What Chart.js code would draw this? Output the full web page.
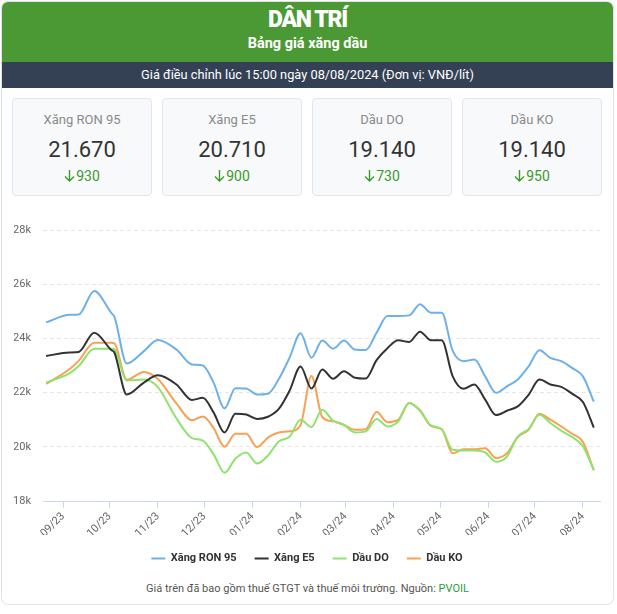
<!DOCTYPE html>
<html>
<head>
<meta charset="utf-8">
<script src="https://cdn.jsdelivr.net/npm/chart.js@4.4.1/dist/chart.umd.min.js"></script>
<style>
  body { margin: 0; background: #fff; font-family: Roboto, "Noto Sans", sans-serif; }
  #box { position: absolute; left: 2px; top: 2px; width: 611px; height: 602px; border-radius: 6px;
         box-shadow: 0 0 0 1px #dfe4ea; overflow: hidden; background: #fff; }
  .abs { position: absolute; left: 0; width: 100%; text-align: center; white-space: nowrap; }
  #head { position: absolute; left: 0; top: 0; width: 100%; height: 60px; background: #4a9934; }
  #logo { top: 5px; line-height: 26px; font-size: 23px; font-weight: 900; color: #fff; letter-spacing: -1.3px; }
  #title { top: 32px; line-height: 20px; font-size: 14.5px; font-weight: 700; color: #fff; }
  #bar { position: absolute; left: 0; top: 60px; width: 100%; height: 26px; background: #344155;
         color: #fff; font-size: 12.8px; line-height: 26px; text-align: center; }
  .card { position: absolute; top: 96px; width: 138px; height: 96px; background: #f8f9fa;
          border: 1px solid #e2e6ea; border-radius: 4px; text-align: center; }
  .card .lbl { position: absolute; top: 13px; width: 100%; font-size: 13px; color: #8a8a8a; line-height: 16px; }
  .card .val { position: absolute; top: 38px; width: 100%; font-size: 22px; color: #333; line-height: 26px; }
  .card .chg { position: absolute; top: 69px; width: 100%; font-size: 14px; color: #3a9a2c; line-height: 16px; }
  .card .chg svg { vertical-align: -1px; margin-right: 1px; }
  #chartWrap { position: absolute; left: 0; top: 198px; width: 611px; height: 375px; }
  #foot { top: 579px; line-height: 16px; font-size: 11px; color: #555; }
  #foot span { color: #2e9a3e; }
</style>
</head>
<body>
<div id="box">
  <div id="head"></div>
  <div id="logo" class="abs">DÂN TRÍ</div>
  <div id="title" class="abs">Bảng giá xăng dầu</div>
  <div id="bar">Giá điều chỉnh lúc 15:00 ngày 08/08/2024 (Đơn vị: VNĐ/lít)</div>
  <div id="cards"></div>
  <div id="chartWrap"><canvas id="myChart"></canvas></div>
  <div id="foot" class="abs">Giá trên đã bao gồm thuế GTGT và thuế môi trường. Nguồn: <span>PVOIL</span></div>
</div>
<script>
// ngày điều chỉnh giá
var dates = [
  '2023-08-21', '2023-09-05', '2023-09-11', '2023-09-21', '2023-10-02', '2023-10-04',
  '2023-10-12', '2023-10-23', '2023-11-01', '2023-11-13', '2023-11-23', '2023-11-30',
  '2023-12-07', '2023-12-14', '2023-12-21', '2023-12-28', '2024-01-04', '2024-01-11',
  '2024-01-18', '2024-01-25', '2024-02-01', '2024-02-08', '2024-02-15', '2024-02-22',
  '2024-02-29', '2024-03-07', '2024-03-14', '2024-03-21', '2024-03-28', '2024-04-04',
  '2024-04-11', '2024-04-18', '2024-04-25', '2024-05-02', '2024-05-09', '2024-05-16',
  '2024-05-23', '2024-05-30', '2024-06-06', '2024-06-13', '2024-06-20', '2024-06-27',
  '2024-07-04', '2024-07-11', '2024-07-18', '2024-07-25', '2024-08-01', '2024-08-08'
];
var ron95 = [
  24590, 24870, 24880, 25750, 24940, 24800, 23070, 23530, 23940, 23590, 23040, 23000,
  22360, 21420, 22160, 22150, 21930, 21960, 22500, 23300, 24190, 23290, 23920, 23620,
  23920, 23590, 23570, 24210, 24830, 24830, 24850, 25260, 24950, 24950, 23550, 23160,
  23220, 22600, 21990, 22230, 22480, 22970, 23560, 23280, 23160, 22910, 22600, 21670
];
var e5 = [
  23350, 23480, 23500, 24210, 23570, 23480, 21930, 22370, 22640, 22300, 21730, 21810,
  21260, 20530, 21220, 21190, 21030, 21110, 21400, 22080, 22960, 22150, 22850, 22510,
  22790, 22550, 22520, 23200, 23640, 23930, 23870, 24250, 23930, 23930, 22610, 22140,
  22300, 21740, 21170, 21330, 21490, 21920, 22480, 22300, 22210, 21960, 21650, 20710
];
var dauDO = [
  22370, 22710, 22980, 23620, 23620, 23600, 22450, 22480, 22200, 21050, 20320, 20230,
  19720, 19040, 19560, 19790, 19380, 19680, 20200, 20380, 21000, 20730, 21370, 20960,
  20810, 20530, 20570, 21030, 20750, 20940, 21620, 21330, 20790, 20650, 19890, 19860,
  19860, 19790, 19450, 19640, 20380, 20650, 21180, 20880, 20600, 20360, 20020, 19140
];
var dauKO = [
  22320, 22860, 23170, 23840, 23840, 23820, 22480, 22760, 22500, 21600, 20980, 21120,
  20690, 20000, 20480, 20480, 19990, 20340, 20530, 20570, 20800, 22610, 21100, 20940,
  20810, 20630, 20650, 21280, 20910, 21000, 21620, 21350, 20770, 20650, 19760, 19910,
  19910, 19950, 19580, 19760, 20360, 20630, 21220, 21000, 20750, 20480, 20180, 19140
];

var seriesNames = ['Xăng RON 95', 'Xăng E5', 'Dầu DO', 'Dầu KO'];
var seriesColors = ['#6eb0ea', '#333333', '#8ee36e', '#f9a053'];

var monthTicks = ['2023-09-01', '2023-10-01', '2023-11-01', '2023-12-01', '2024-01-01', '2024-02-01',
                  '2024-03-01', '2024-04-01', '2024-05-01', '2024-06-01', '2024-07-01', '2024-08-01'];
var tickLabels = ['09/23', '10/23', '11/23', '12/23', '01/24', '02/24',
                  '03/24', '04/24', '05/24', '06/24', '07/24', '08/24'];

// thẻ giá hiện tại
var cardNames = ['Xăng RON 95', 'Xăng E5', 'Dầu DO', 'Dầu KO'];
var cardPrices = ['21.670', '20.710', '19.140', '19.140'];
var cardChanges = ['930', '900', '730', '950'];

function day(s) {
  var p = s.split('-');
  return Date.UTC(+p[0], +p[1] - 1, +p[2]) / 86400000;
}

var arrow = '<svg width="11" height="13" viewBox="0 0 11 13"><path d="M5.5 1 V12 M1 7.5 L5.5 12 L10 7.5" ' +
  'fill="none" stroke="#3a9a2c" stroke-width="1.4"/></svg>';
var cardsHtml = '';
for (var i = 0; i < cardNames.length; i++) {
  cardsHtml += '<div class="card" style="left:' + (10 + i * 150) + 'px">' +
    '<div class="lbl">' + cardNames[i] + '</div>' +
    '<div class="val">' + cardPrices[i] + '</div>' +
    '<div class="chg">' + arrow + cardChanges[i] + '</div></div>';
}
document.getElementById('cards').innerHTML = cardsHtml;

var allSeries = [ron95, e5, dauDO, dauKO];
var datasets = [];
for (var s = 0; s < allSeries.length; s++) {
  var pts = [];
  for (var j = 0; j < dates.length; j++) {
    pts.push({ x: day(dates[j]), y: allSeries[s][j] });
  }
  datasets.push({
    label: seriesNames[s],
    data: pts,
    borderColor: seriesColors[s],
    backgroundColor: seriesColors[s],
    borderWidth: 2,
    pointRadius: 0,
    cubicInterpolationMode: 'monotone'
  });
}

var ctx = document.getElementById('myChart').getContext('2d');
new Chart(ctx, {
  type: 'line',
  data: { datasets: datasets },
  options: {
    responsive: true,
    maintainAspectRatio: false,
    animation: false,
    layout: { padding: { left: 12, right: 13, top: 30, bottom: 1 } },
    plugins: {
      tooltip: { enabled: false },
      legend: {
        position: 'bottom',
        labels: {
          usePointStyle: true,
          pointStyle: 'line',
          pointStyleWidth: 14,
          padding: 18,
          color: '#333',
          font: { family: 'Roboto', size: 11, weight: 'bold' }
        }
      }
    },
    scales: {
      x: {
        type: 'linear',
        min: day('2023-08-19'),
        max: day('2024-08-12'),
        afterBuildTicks: function (scale) {
          scale.ticks = monthTicks.map(function (m) { return { value: day(m) }; });
        },
        afterFit: function (scale) { scale.height = 34; },
        ticks: {
          autoSkip: false,
          minRotation: 45,
          maxRotation: 45,
          padding: 2,
          color: '#666',
          font: { family: 'Roboto', size: 11 },
          callback: function (v, idx) { return tickLabels[idx]; }
        },
        grid: { display: true, drawOnChartArea: false, drawTicks: true, tickLength: 7, color: '#ccd6eb' },
        border: { display: true, color: '#ccd6eb' }
      },
      y: {
        min: 18000,
        max: 28000,
        afterFit: function (scale) { scale.width = 29; },
        ticks: {
          stepSize: 2000,
          padding: 12,
          color: '#666',
          font: { family: 'Roboto', size: 11 },
          callback: function (v) { return (v / 1000) + 'k'; }
        },
        grid: { color: '#e6e6e6', drawTicks: false },
        border: { display: false, dash: [4, 3] }
      }
    }
  }
});
</script>
</body>
</html>
